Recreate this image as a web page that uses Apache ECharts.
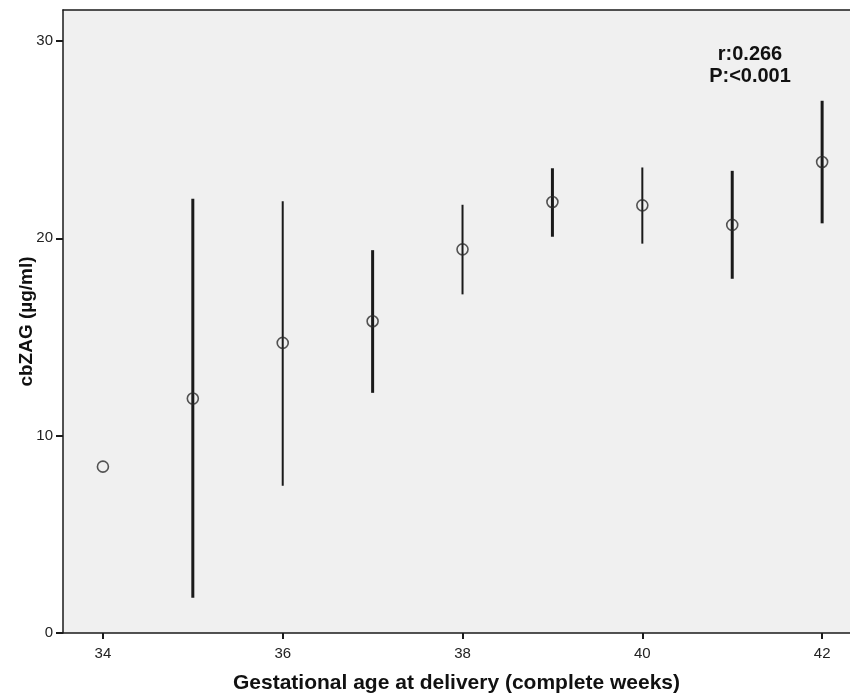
<!DOCTYPE html>
<html>
<head>
<meta charset="utf-8">
<script src="https://cdn.jsdelivr.net/npm/echarts@6/dist/echarts.min.js"></script>
<style>
html,body{margin:0;padding:0;background:#fff;}
#chart{width:850px;height:693px;}
</style>
</head>
<body>
<div id="chart"></div>
<script>
// ---- data ----
const weeks = [34, 35, 36, 37, 38, 39, 40, 41, 42];
const means = [8.43, 11.88, 14.7, 15.8, 19.44, 21.84, 21.67, 20.68, 23.87];
const lower = [null, 1.78, 7.46, 12.17, 17.16, 20.08, 19.73, 17.95, 20.76];
const upper = [null, 22.0, 21.88, 19.4, 21.7, 23.55, 23.59, 23.42, 26.97];
const xTicks = [34, 36, 38, 40, 42];
const yTicks = [0, 10, 20, 30];
const annotation = ['r:0.266', 'P:<0.001'];
const xTitle = 'Gestational age at delivery (complete weeks)';
const yTitle = 'cbZAG (µg/ml)';

// ---- style ----
const barWidths = [0, 3, 2, 3, 2, 3, 2, 3, 3];
const ink = '#1a1a1a';
const fontFam = '"Liberation Sans", Arial, sans-serif';

const meanData = weeks.map((w, i) => [w, means[i]]);
const barData = weeks.map((w, i) => [w, lower[i], upper[i], i]).filter(d => d[1] != null);

const chart = echarts.init(document.getElementById('chart'), null, {renderer: 'canvas'});
chart.setOption({
  backgroundColor: '#ffffff',
  animation: false,
  grid: {left: 63, top: 10, right: 0, bottom: 60, show: true, backgroundColor: '#f0f0f0', borderWidth: 0,
         containLabel: false, outerBoundsMode: 'none'},
  xAxis: [{
    type: 'value', min: 33.556, max: 42.31,
    splitLine: {show: false},
    axisLine: {show: true, onZero: false, lineStyle: {color: ink, width: 1.5}},
    axisTick: {show: true, length: 6, lineStyle: {color: ink, width: 2}, customValues: xTicks},
    axisLabel: {color: '#222', fontSize: 15, fontFamily: fontFam, margin: 13, customValues: xTicks},
    name: xTitle, nameLocation: 'middle', nameGap: 40, nameMoveOverlap: false,
    nameTextStyle: {color: '#111', fontSize: 21, fontWeight: 'bold', fontFamily: fontFam}
  }, {
    type: 'value', min: 33.556, max: 42.31, position: 'top',
    splitLine: {show: false},
    axisLine: {show: true, onZero: false, lineStyle: {color: ink, width: 1.5}},
    axisTick: {show: false}, axisLabel: {show: false}
  }],
  yAxis: {
    type: 'value', min: 0, max: 31.57, interval: 10,
    splitLine: {show: false},
    axisLine: {show: true, onZero: false, lineStyle: {color: ink, width: 1.5}},
    axisTick: {show: true, length: 7, lineStyle: {color: ink, width: 2}, customValues: yTicks},
    axisLabel: {color: '#222', fontSize: 15, fontFamily: fontFam, margin: 10, customValues: yTicks},
    name: yTitle, nameLocation: 'middle', nameGap: 27, nameMoveOverlap: false,
    nameTextStyle: {color: '#111', fontSize: 19, fontWeight: 'bold', fontFamily: fontFam}
  },
  series: [{
    type: 'custom',
    xAxisIndex: 0,
    data: barData,
    renderItem: function (params, api) {
      const x = api.value(0);
      const lo = api.coord([x, api.value(1)]);
      const hi = api.coord([x, api.value(2)]);
      const w = barWidths[api.value(3)];
      return {
        type: 'line',
        shape: {x1: lo[0], y1: lo[1], x2: hi[0], y2: hi[1]},
        style: {stroke: ink, lineWidth: w}
      };
    },
    z: 2
  }, {
    type: 'scatter',
    xAxisIndex: 0,
    data: meanData,
    symbol: 'circle',
    symbolSize: 11,
    itemStyle: {color: 'rgba(0,0,0,0)', borderColor: '#2a2a2a', borderWidth: 1.6},
    z: 3
  }],
  graphic: [{
    type: 'text', x: 750, y: 43,
    style: {
      text: annotation.join('\n'), align: 'center', textAlign: 'center',
      fill: '#111', font: 'bold 20px ' + fontFam, lineHeight: 22
    }
  }]
});
</script>
</body>
</html>
